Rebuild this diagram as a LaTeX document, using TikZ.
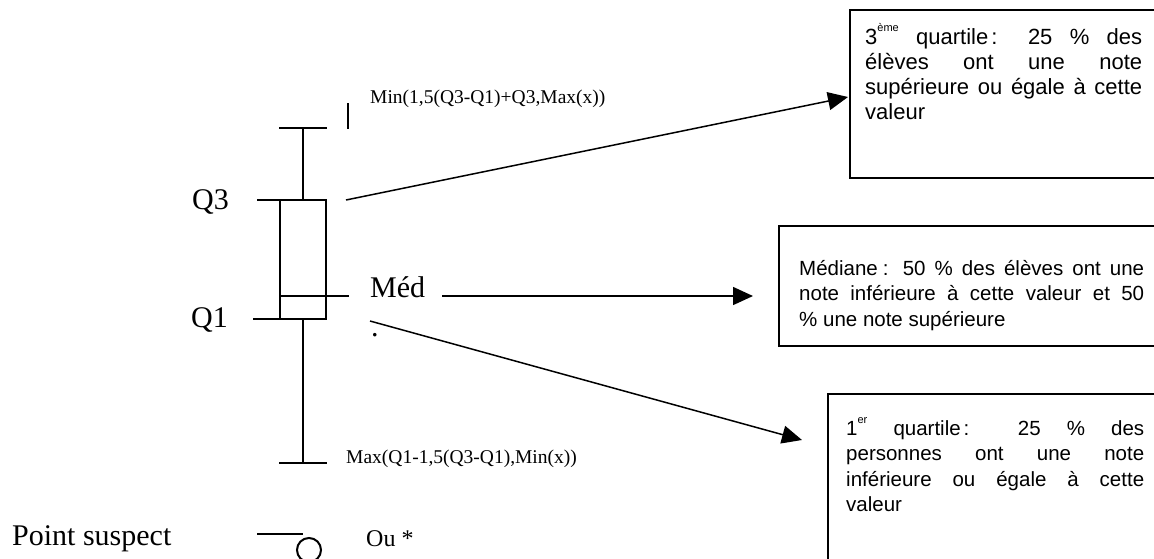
\documentclass[tikz,border=0pt]{standalone}
\usepackage{fontspec}
\setmainfont{Liberation Serif}
\newfontfamily\arialfam{Liberation Sans}
\usetikzlibrary{arrows.meta}
\newcommand{\supsmall}[1]{\raisebox{0.55em}{\fontsize{11}{11}\selectfont #1}}
\begin{document}
\begin{tikzpicture}[x=1pt,y=-1pt,
  plot/.style={line width=2pt},
  conn/.style={line width=1.5pt,-{Triangle[length=20pt,width=18pt]}},
  infobox/.style={draw,line width=2pt,anchor=north west,inner sep=0pt},
  infotext/.style={anchor=base west,inner sep=0pt,align=justify,font=\arialfam\fontsize{20.5}{25.5}\selectfont},
  lab/.style={inner sep=0pt,font=\fontsize{30}{34}\selectfont},
  small/.style={inner sep=0pt,font=\fontsize{19.5}{23}\selectfont}]
\useasboundingbox (0,0) rectangle (1154,558);
% box plot
\draw[plot] (279,128) -- (327,128);
\draw[plot] (303,128) -- (303,200);
\draw[plot] (348,103) -- (348,129);
\draw[plot] (280,200) rectangle (326,319);
\draw[plot] (257,200) -- (280,200);
\draw[plot] (280,296) -- (349,296);
\draw[plot] (253,319) -- (280,319);
\draw[plot] (303,319) -- (303,463);
\draw[plot] (279,463) -- (327,463);
% suspect point symbol
\draw[plot] (257,534) -- (303,534);
\draw[plot] (309,550) circle[radius=12pt];
% labels
\node[lab,anchor=base east] (q3) at (229,209) {Q3};
\node[lab,anchor=base east] (q1) at (228,327) {Q1};
\node[lab,anchor=base west] (med) at (370,297) {Méd};
\node[lab,anchor=base west] (dot) at (371,336) {.};
\node[lab,anchor=base west] (ps) at (12,545) {Point suspect};
\node[small,anchor=base west] (minl) at (370,103) {Min(1,5(Q3-Q1)+Q3,Max(x))};
\node[small,anchor=base west] (maxl) at (346,463) {Max(Q1-1,5(Q3-Q1),Min(x))};
\node[inner sep=0pt,font=\fontsize{24}{28}\selectfont,anchor=base west] (ou) at (366,546) {Ou *};
% info boxes
\node[infobox,minimum width=330pt,minimum height=168pt] (b1) at (849,9) {};
\node[infobox,minimum width=400pt,minimum height=120pt] (b2) at (778,225) {};
\node[infobox,minimum width=350pt,minimum height=200pt] (b3) at (827,393) {};
\node[infotext,text width=277pt,font=\arialfam\fontsize{22}{25.3}\selectfont] (t1) at (865,44) {3\supsmall{ème} quartile\hspace{3pt}: 25 \% des\linebreak élèves ont une note\linebreak supérieure ou égale à cette\linebreak valeur};
\node[infotext,text width=345pt] (t2) at (799,275) {Médiane\hspace{5pt}: 50 \% des élèves ont une\linebreak note inférieure à cette valeur et 50\linebreak \% une note supérieure};
\node[infotext,text width=298pt] (t3) at (846,435) {1\supsmall{er} quartile\hspace{3pt}: 25 \% des\linebreak personnes ont une note\linebreak inférieure ou égale à cette\linebreak valeur};
% connectors
\coordinate (a1s) at (346,200);
\coordinate (a1e) at (848,97);
\coordinate (a2s) at (442,296);
\coordinate (a2e) at (753,296);
\coordinate (a3s) at (370,321);
\coordinate (a3e) at (802,440);
\draw[conn] (a1s) -- (a1e);
\draw[conn] (a2s) -- (a2e);
\draw[conn] (a3s) -- (a3e);
\end{tikzpicture}
\end{document}
